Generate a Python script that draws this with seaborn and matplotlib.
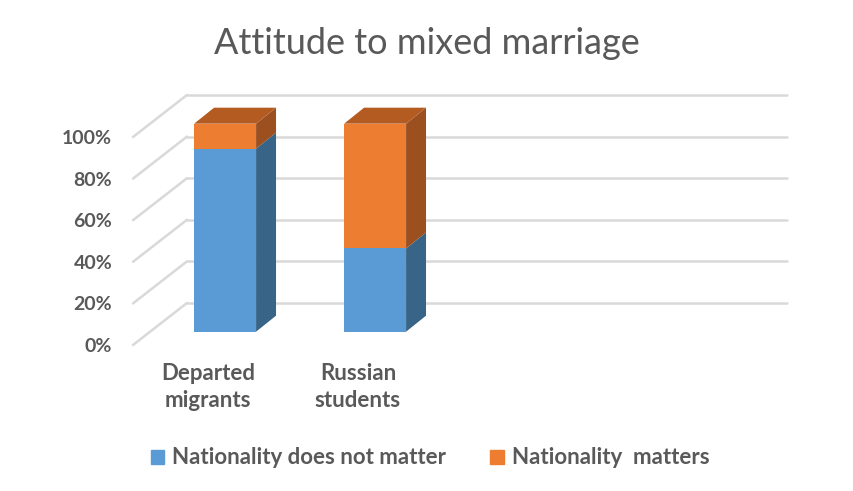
import numpy as np
import pandas as pd
import matplotlib
matplotlib.use("Agg")
import matplotlib.pyplot as plt
import seaborn as sns
from matplotlib.patches import Polygon, Patch
from matplotlib.transforms import Affine2D

# data (share of respondents)
groups = ["Departed\nmigrants", "Russian\nstudents"]
not_matter = [0.88, 0.40]
matters = [0.12, 0.60]
series_names = ["Nationality does not matter", "Nationality  matters"]
yticks = [0, 0.2, 0.4, 0.6, 0.8, 1.0]
ytick_labels = ["0%", "20%", "40%", "60%", "80%", "100%"]

blue, orange = "#5B9BD5", "#ED7D31"
blue_side, orange_side, orange_top = "#386487", "#9C501F", "#B45B22"
grid_c = "#D9D9D9"
txt_c = "#595959"

sns.set_theme(style="white")
plt.rcParams["font.family"] = ["Lato", "DejaVu Sans"]

df = pd.DataFrame({"group": groups, "not_matter": not_matter,
                   "total": np.array(not_matter) + np.array(matters)})

fig = plt.figure(figsize=(8.54, 4.91), dpi=100)
ax = fig.add_axes([133 / 854, 146 / 491, 600 / 854, 208 / 491])

# 3d-ish depth: wall depth and bar depth (category units, y units)
DX, DY = 0.36, 0.202
off_x, off_y = 0.114, 0.064
bdx, bdy = 0.133, 0.077

# back wall grid + left wall diagonals
for y in yticks:
    ax.plot([-0.5 + DX, 3.5 + DX], [y + DY, y + DY], color=grid_c, lw=1.8,
            clip_on=False, zorder=0)
    ax.plot([-0.5, -0.5 + DX], [y, y + DY], color=grid_c, lw=1.8,
            clip_on=False, zorder=0)

sns.barplot(data=df, x="group", y="total", color=orange, width=0.413,
            saturation=1, ax=ax, zorder=3)
sns.barplot(data=df, x="group", y="not_matter", color=blue, width=0.413,
            saturation=1, ax=ax, zorder=3)

shift = Affine2D().translate(off_x, off_y) + ax.transData
for p in ax.patches:
    p.set_transform(shift)
    p.set_linewidth(0)
    p.set_clip_on(False)

# side and top faces
nb = len(groups)
for i, p in enumerate(ax.patches[:nb]):
    x0, w = p.get_x(), p.get_width()
    xr = x0 + w
    b_top = not_matter[i]
    tot = not_matter[i] + matters[i]
    faces = [
        ([(xr, 0), (xr + bdx, bdy), (xr + bdx, b_top + bdy), (xr, b_top)], blue_side),
        ([(xr, b_top), (xr + bdx, b_top + bdy), (xr + bdx, tot + bdy), (xr, tot)], orange_side),
        ([(x0, tot), (x0 + bdx, tot + bdy), (xr + bdx, tot + bdy), (xr, tot)], orange_top),
    ]
    for pts, c in faces:
        ax.add_patch(Polygon(pts, closed=True, facecolor=c, edgecolor="none",
                             transform=shift, zorder=2, clip_on=False))

ax.set_xlim(-0.5, 3.5)
ax.set_ylim(0, 1)
ax.set_yticks(yticks)
ax.set_yticklabels(ytick_labels)
ax.set_xticks(range(nb))
ax.set_xticklabels(groups, linespacing=1.35)
ax.set_xlabel("")
ax.set_ylabel("")
ax.tick_params(axis="y", length=0, pad=15, labelsize=14, labelcolor=txt_c)
ax.tick_params(axis="x", length=0, pad=13, labelsize=16, labelcolor=txt_c)
for lab in ax.get_xticklabels() + ax.get_yticklabels():
    lab.set_fontweight("bold")
for s in ax.spines.values():
    s.set_visible(False)
ax.set_facecolor("none")

fig.text(0.5, 1 - 43 / 491, "Attitude to mixed marriage", ha="center",
         va="center", fontsize=26, color=txt_c)

handles = [Patch(color=blue), Patch(color=orange)]
leg = fig.legend(handles, series_names, loc="center",
                 bbox_to_anchor=(430 / 854, 1 - 458 / 491), ncol=2,
                 frameon=False, handlelength=0.6, handleheight=0.6,
                 handletextpad=0.35, columnspacing=2.0,
                 prop={"size": 16, "weight": "bold"})
for t in leg.get_texts():
    t.set_color(txt_c)

fig.savefig("out.png", dpi=100)
